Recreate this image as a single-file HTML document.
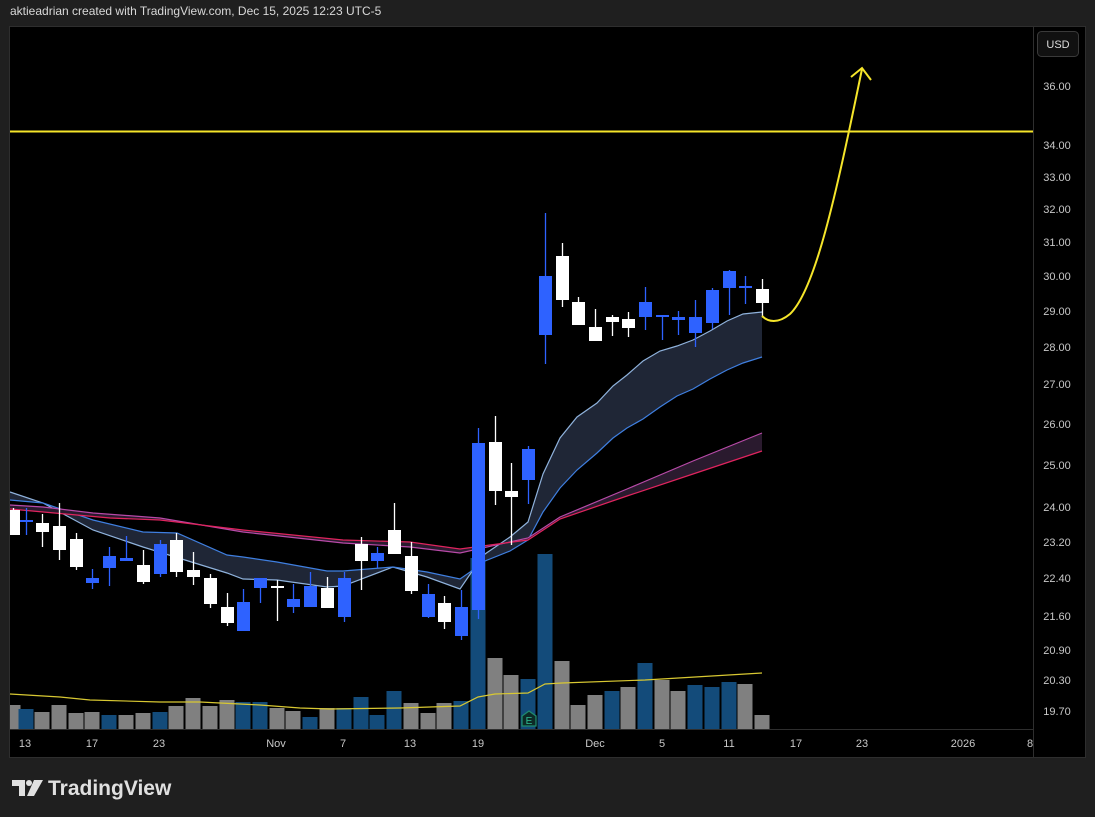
<!DOCTYPE html>
<html><head><meta charset="utf-8"><style>
html,body{margin:0;padding:0;background:#1f1f1f;width:1095px;height:817px;overflow:hidden;font-family:"Liberation Sans",sans-serif}
svg{position:absolute;left:0;top:0}
</style></head><body>
<svg id="s" width="1095" height="817" viewBox="0 0 1095 817">
<rect x="0" y="0" width="1095" height="817" fill="#1f1f1f"/>
<text x="10" y="15" fill="#d8d8d8" font-size="12" font-family="Liberation Sans">aktieadrian created with TradingView.com, Dec 15, 2025 12:23 UTC-5</text>
<rect x="10" y="27" width="1075" height="730" fill="#000"/>
<rect x="9.5" y="26.5" width="1076" height="731" fill="none" stroke="#2e2e2e"/>
<line x1="1033.5" y1="27" x2="1033.5" y2="757" stroke="#2e2e2e"/>
<line x1="10" y1="729.5" x2="1033" y2="729.5" stroke="#2e2e2e"/>
<rect x="1037.5" y="31.5" width="41" height="25" rx="4" fill="#111" stroke="#3a3a3a"/>
<text x="1058" y="48" fill="#ddd" font-size="11" text-anchor="middle">USD</text>
<g fill="#c8c8c8" font-size="11" text-anchor="middle">
<text x="1057" y="90">36.00</text><text x="1057" y="149">34.00</text><text x="1057" y="181">33.00</text>
<text x="1057" y="213">32.00</text><text x="1057" y="246">31.00</text><text x="1057" y="280">30.00</text>
<text x="1057" y="315">29.00</text><text x="1057" y="351">28.00</text><text x="1057" y="388">27.00</text>
<text x="1057" y="428">26.00</text><text x="1057" y="469">25.00</text><text x="1057" y="511">24.00</text>
<text x="1057" y="546">23.20</text><text x="1057" y="582">22.40</text><text x="1057" y="620">21.60</text>
<text x="1057" y="654">20.90</text><text x="1057" y="684">20.30</text><text x="1057" y="715">19.70</text>
</g>
<g fill="#c8c8c8" font-size="11" text-anchor="middle">
<text x="25" y="747">13</text><text x="92" y="747">17</text><text x="159" y="747">23</text>
<text x="276" y="747">Nov</text><text x="343" y="747">7</text><text x="410" y="747">13</text>
<text x="478" y="747">19</text><text x="595" y="747">Dec</text><text x="662" y="747">5</text>
<text x="729" y="747">11</text><text x="796" y="747">17</text><text x="862" y="747">23</text>
<text x="963" y="747">2026</text><text x="1030" y="747">8</text>
</g>
<g id="vol"></g>
<polyline fill="none" stroke="#d8c832" stroke-width="1.2" points="10,694 60,697 90,700 160,702 200,702 260,705 300,708 330,709 400,708 460,706 478,697 495,694 528,693 545,684 562,683 645,680 762,673"/>
<path d="M522,716 l7,-5 l7,5 v10 h-14z" fill="#0d2a26" stroke="#1f8a6e" stroke-width="1.3"/>
<text x="529" y="724" fill="#2fbf95" font-size="10" text-anchor="middle">E</text>
<!-- blue band -->
<polygon fill="#1f2636" points="10,492 43,503 93,530 143,547 227,573 243,579 277,580 327,587 343,586 393,567 427,577 460,589 473,570 485,554 510,537 528,522 543,474 560,438 577,417 597,403 613,386 627,375 643,361 660,351 677,346 693,340 710,331 727,321 743,314 762,312 762,357 743,363 727,370 710,379 693,389 677,396 660,407 643,419 627,428 613,438 597,453 577,470 560,488 543,512 528,540 510,551 485,561 473,570 460,579 427,572 393,567 343,571 327,571 277,562 243,557 227,555 177,533 143,532 93,520 43,503 10,500"/>
<polyline fill="none" stroke="#8fb2dc" stroke-width="1.2" points="10,492 43,503 93,530 143,547 227,573 243,579 277,580 327,587 343,586 393,567 427,577 460,589 473,570 485,554 510,537 528,522 543,474 560,438 577,417 597,403 613,386 627,375 643,361 660,351 677,346 693,340 710,331 727,321 743,314 762,312"/>
<polyline fill="none" stroke="#3f7fe0" stroke-width="1.2" points="10,500 43,503 93,520 143,532 177,533 227,555 243,557 277,562 327,571 343,571 393,567 427,572 460,579 473,570 485,561 510,551 528,540 543,512 560,488 577,470 597,453 613,438 627,428 643,419 660,407 677,396 693,389 710,379 727,370 743,363 762,357"/>
<polygon fill="#2a1a2e" points="10,505 43,507 93,513 160,518 243,532 343,543 410,547 460,553 528,538 560,517 627,489 693,461 762,433 762,451 693,474 627,496 560,519 528,540 460,549 410,542 343,540 243,530 160,520 110,518 10,509"/>
<polyline fill="none" stroke="#b84aa8" stroke-width="1.2" points="10,505 43,507 93,513 160,518 243,532 343,543 410,547 460,553 528,538 560,517 627,489 693,461 762,433"/>
<polyline fill="none" stroke="#e0245e" stroke-width="1.2" points="10,509 110,518 160,520 243,530 343,540 410,542 460,549 528,540 560,519 627,496 693,474 762,451"/>
<g id="cdl"></g>
<line x1="10" y1="131.5" x2="1033" y2="131.5" stroke="#f5e52a" stroke-width="2"/>
<path d="M762,316 C768,322 778,324 790,314 C815,290 835,200 862,69" fill="none" stroke="#f5e52a" stroke-width="2"/>
<path d="M851,77 L862,68 L871,80" fill="none" stroke="#f5e52a" stroke-width="2"/>
<g transform="translate(12,778)" fill="#e0e0e0">
<path d="M0,2 h13 v16 h-6 v-10 h-7z"/><circle cx="17" cy="5" r="3"/><path d="M22,2 h9 l-9,16 h-7z"/>
</g>
<text x="48" y="795" fill="#e0e0e0" font-size="21" font-weight="bold" font-family="Liberation Sans">TradingView</text>
</svg>
<script>
var C=[[13,510,535,508,535,0],[26,520,521,508,535,1],[42,523,532,514,547,0],[59,526,550,503,560,0],[76,539,567,533,570,0],[92,578,583,569,589,1],[109,556,568,547,586,1],[126,558,561,536,561,1],[143,565,582,550,584,0],[160,544,574,540,577,1],[176,540,572,533,577,0],[193,570,577,552,585,0],[210,578,604,574,608,0],[227,607,623,593,626,0],[243,602,631,589,631,1],[260,578,588,578,603,1],[277,586,588,580,621,0],[293,599,607,584,613,1],[310,586,607,572,607,1],[327,588,608,577,608,0],[344,578,617,572,622,1],[361,544,561,537,590,0],[377,553,561,547,568,1],[394,530,554,503,554,0],[411,556,591,542,594,0],[428,594,617,584,618,1],[444,603,622,596,629,0],[461,607,636,590,640,1],[478,443,610,428,619,1],[495,442,491,416,505,0],[511,491,497,463,545,0],[528,449,480,446,504,1],[545,276,335,213,364,1],[562,256,300,243,307,0],[578,302,325,297,325,0],[595,327,341,309,341,0],[612,317,322,315,336,0],[628,319,328,312,337,0],[645,302,317,287,330,1],[662,315,316,315,340,1],[678,317,320,311,335,1],[695,317,333,300,347,1],[712,290,323,288,329,1],[729,271,288,270,315,1],[745,286,287,276,304,1],[762,289,303,279,316,0]];
var V=[[705,0],[709,1],[712,0],[705,0],[713,0],[712,0],[715,1],[715,0],[713,0],[712,1],[706,0],[698,0],[706,0],[700,0],[702,1],[702,1],[708,0],[711,0],[717,1],[708,0],[708,1],[697,1],[715,1],[691,1],[703,0],[713,0],[703,0],[701,1],[558,1],[658,0],[675,0],[679,1],[554,1],[661,0],[705,0],[695,0],[691,1],[687,0],[663,1],[680,0],[691,0],[685,1],[687,1],[682,1],[684,0],[715,0]];
var ns="http://www.w3.org/2000/svg";
function el(p,t,a){var e=document.createElementNS(ns,t);for(var k in a)e.setAttribute(k,a[k]);p.appendChild(e);}
var vg=document.getElementById('vol'),cg=document.getElementById('cdl');
for(var i=0;i<C.length;i++){
 var x=C[i][0],v=V[i];var vx=Math.max(10,x-7.5);var vw=x+7.5-vx;
 el(vg,'rect',{x:vx,y:v[0],width:vw,height:729-v[0],fill:v[1]?'#134b7a':'#808080'});
 var col=C[i][5]?'#2e62ff':'#ffffff';
 el(cg,'line',{x1:x+0.5,x2:x+0.5,y1:C[i][3],y2:C[i][4],stroke:col,'stroke-width':1.3});
 var bx=Math.max(10,x-6);
 el(cg,'rect',{x:bx,y:C[i][1],width:x+7-bx,height:Math.max(2,C[i][2]-C[i][1]),fill:col});
}
</script>
</body></html>
